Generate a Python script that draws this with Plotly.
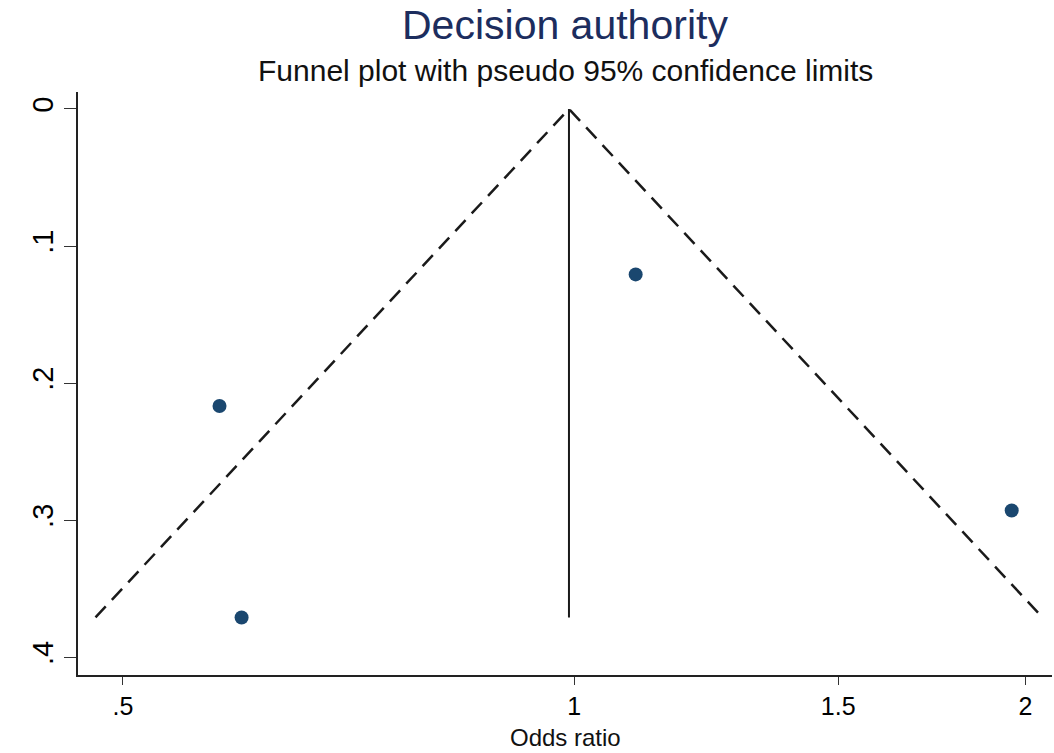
import plotly.graph_objects as go
import numpy as np

# Study data (odds ratio, standard error of log OR)
odds_ratio = [1.099, 0.580, 0.600, 1.958]
se_logor = [0.1207, 0.2167, 0.371, 0.293]

pooled_or = 0.992
max_se = 0.371

x_ticks = [0.5, 1, 1.5, 2]
x_tick_labels = [".5", "1", "1.5", "2"]
y_ticks = [0, 0.1, 0.2, 0.3, 0.4]
y_tick_labels = ["0", ".1", ".2", ".3", ".4"]

font_family = "Liberation Sans, Arial, sans-serif"

lo = float(np.exp(np.log(pooled_or) - 1.96 * max_se))
hi = float(np.exp(np.log(pooled_or) + 1.96 * max_se))

fig = go.Figure()
# pseudo 95% confidence limits
fig.add_trace(go.Scatter(x=[lo, pooled_or, hi], y=[max_se, 0, max_se], mode="lines",
                         line=dict(color="#1a1a1a", width=2.5, dash="15px,9px"),
                         showlegend=False, hoverinfo="skip"))
# pooled estimate line
fig.add_trace(go.Scatter(x=[pooled_or, pooled_or], y=[0, max_se], mode="lines",
                         line=dict(color="#1a1a1a", width=2),
                         showlegend=False, hoverinfo="skip"))
# studies
fig.add_trace(go.Scatter(x=odds_ratio, y=se_logor, mode="markers",
                         marker=dict(color="#1a476f", size=14),
                         showlegend=False))

T, B = 92, 78
plot_h = 753 - T - B
plot_bottom = 753 - B

fig.update_layout(
    width=1054, height=753,
    margin=dict(l=78, r=2, t=T, b=B),
    paper_bgcolor="white", plot_bgcolor="white",
    font=dict(family=font_family, color="black", size=25),
    xaxis=dict(type="log", range=[np.log10(0.4667), np.log10(2.083)],
               tickvals=x_ticks, ticktext=x_tick_labels,
               ticks="outside", ticklen=8, tickcolor="#333", tickwidth=1.2,
               showline=True, linecolor="#222", linewidth=1.5,
               showgrid=False, zeroline=False,
               tickfont=dict(size=25)),
    yaxis=dict(range=[0.413, -0.0124],
               tickvals=y_ticks, ticktext=y_tick_labels, tickangle=-90,
               ticks="outside", ticklen=12, tickcolor="#333", tickwidth=1.2,
               showline=True, linecolor="#222", linewidth=1.5,
               showgrid=False, zeroline=False,
               tickfont=dict(size=29)),
    annotations=[
        dict(text="Decision authority", x=0.5, y=1 + (T - 25) / plot_h,
             xref="paper", yref="paper", yanchor="middle",
             showarrow=False, font=dict(size=41, color="#1c2d5e")),
        dict(text="Funnel plot with pseudo 95% confidence limits", x=0.5,
             y=1 + (T - 71) / plot_h, xref="paper", yref="paper", yanchor="middle",
             showarrow=False, font=dict(size=30, color="#111")),
        dict(text="Odds ratio", x=0.5, y=-(752 - plot_bottom) / plot_h,
             xref="paper", yref="paper", yanchor="bottom", borderpad=0,
             showarrow=False, font=dict(size=24, color="#111")),
    ],
)

fig.write_html("out.html")
